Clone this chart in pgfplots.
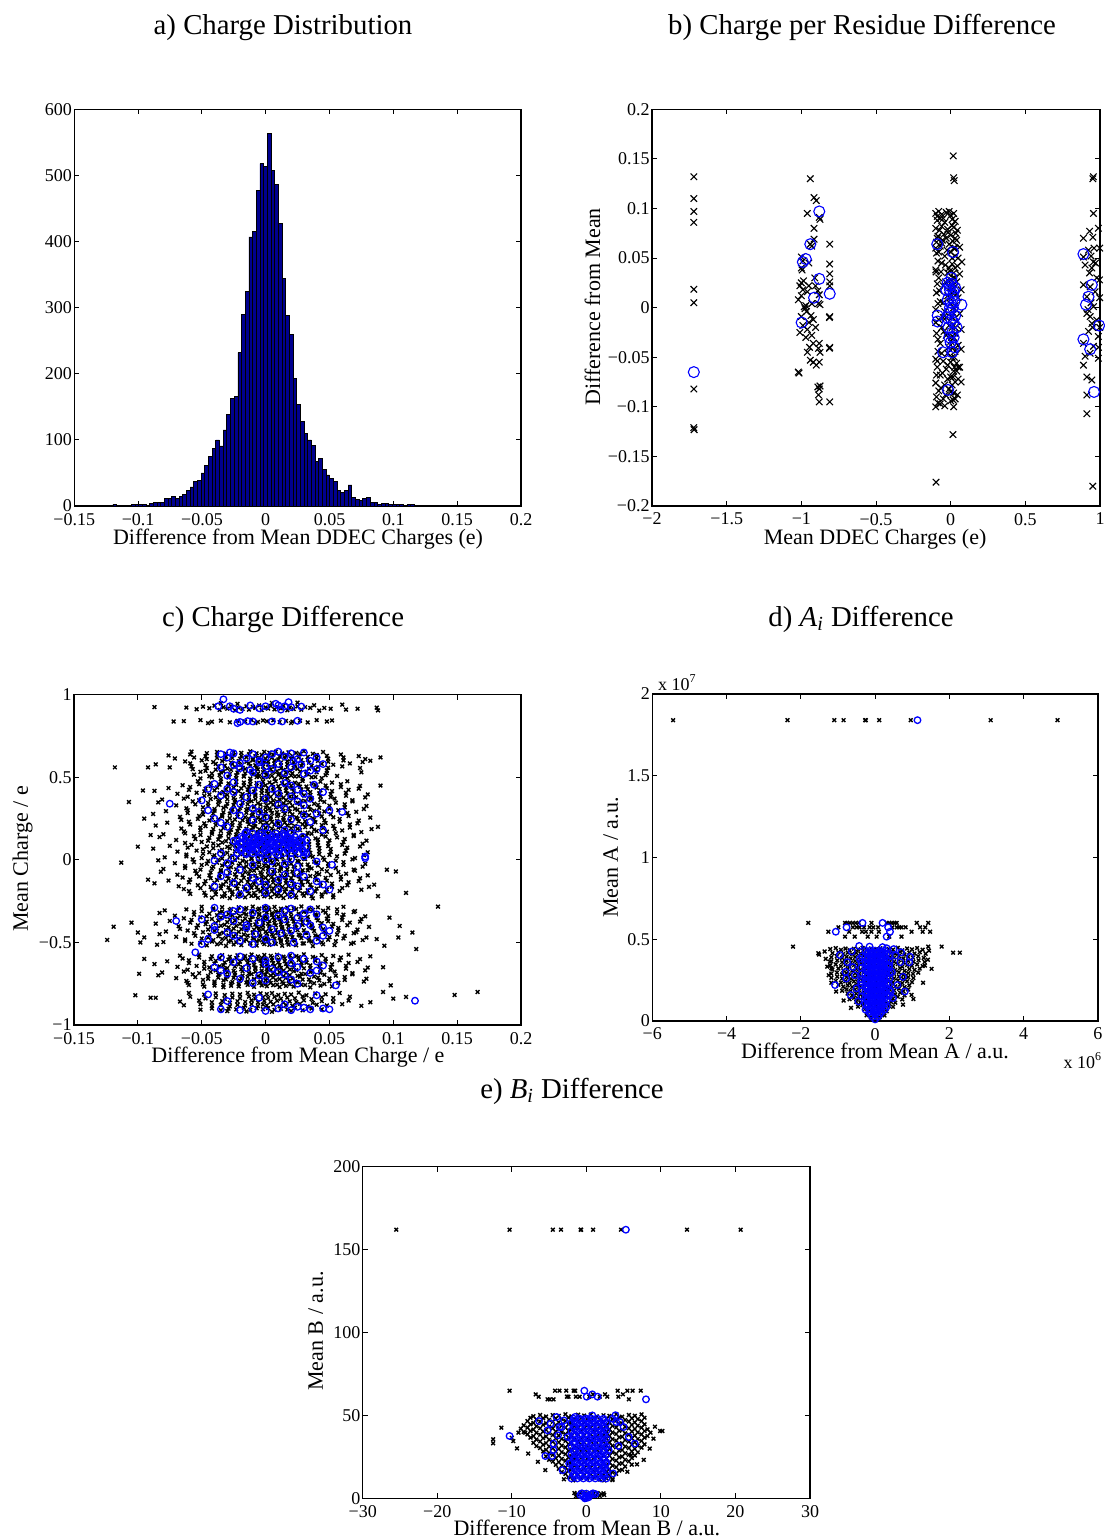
\documentclass[border=0pt]{standalone}
\usepackage{fontspec}
\setmainfont{Liberation Serif}
\usepackage{pgfplots}
\pgfplotsset{compat=1.18}
\definecolor{histblue}{rgb}{0,0,0.5625}
\pgfplotsset{
  mstyle/.style={
    scale only axis, tick align=inside, major tick length=2.5pt,
    axis line style={line width=0.6pt}, tick style={line width=0.5pt,black},
    tick label style={font=\fontsize{9}{10}\selectfont},
    yticklabel style={inner xsep=1pt},
    label style={font=\fontsize{11}{13}\selectfont},
    xlabel style={anchor=base}, ylabel style={anchor=base},
    scaled ticks=false,
  },
  bx/.style={only marks, mark=x, mark size=2.3pt, mark options={line width=0.55pt, black}},
  bo/.style={only marks, mark=o, mark size=2.75pt, mark options={line width=0.55pt, blue}},
  sx/.style={only marks, mark=x, mark size=1.3pt, mark options={line width=0.7pt, black}},
  so/.style={only marks, mark=o, mark size=1.65pt, mark options={line width=0.65pt, blue}},
}
\newcommand\titlefont{\fontsize{14.4}{17}\selectfont}
\begin{document}
\begin{tikzpicture}
\useasboundingbox (0,0) rectangle (552pt,-770pt);
% titles
\node[anchor=base,font=\titlefont] at (141.5pt,-17.5pt) {a) Charge Distribution};
\node[anchor=base,font=\titlefont] at (431pt,-17.5pt) {b) Charge per Residue Difference};
\node[anchor=base,font=\titlefont] at (141.5pt,-313pt) {c) Charge Difference};
\node[anchor=base,font=\titlefont] at (430.5pt,-313pt) {d) \textit{A}\textsubscript{\textit{i}} Difference};
\node[anchor=base,font=\titlefont] at (286pt,-549pt) {e) \textit{B}\textsubscript{\textit{i}} Difference};

% ---------------- a) histogram
\begin{axis}[mstyle, at={(37.15pt,-54.65pt)}, anchor=north west, width=223.35pt, height=198.35pt,
  xmin=-0.15, xmax=0.2, ymin=0, ymax=600,
  xtick={-0.15,-0.1,-0.05,0,0.05,0.1,0.15,0.2}, xticklabels={−0.15,−0.1,−0.05,0,0.05,0.1,0.15,0.2},
  ytick={0,100,200,300,400,500,600}, yticklabels={0,100,200,300,400,500,600},
  xlabel={Difference from Mean DDEC Charges (e)}, xlabel style={at={(axis description cs:0.5008,-0.0983)}}]
\addplot[ybar, bar width=0.00288, bar shift=0pt, fill=histblue, draw=black, line width=0.3pt] table[row sep=\\] {
-0.12124 1\\ -0.11836 3\\ -0.11548 1\\ -0.11260 1\\ -0.10972 0\\ -0.10684 1\\ -0.10396 2\\ -0.10108 2\\ -0.09820 2\\ -0.09532 2\\ -0.09244 1\\ -0.08956 4\\ -0.08668 6\\ -0.08380 5\\ -0.08092 6\\ -0.07804 11\\ -0.07516 11\\ -0.07228 14\\ -0.06940 12\\ -0.06652 15\\ -0.06364 18\\ -0.06076 24\\ -0.05788 29\\ -0.05500 37\\ -0.05212 39\\ -0.04924 50\\ -0.04636 61\\ -0.04348 75\\ -0.04060 87\\ -0.03772 100\\ -0.03484 91\\ -0.03196 115\\ -0.02908 138\\ -0.02620 163\\ -0.02332 166\\ -0.02044 232\\ -0.01756 290\\ -0.01468 325\\ -0.01180 407\\ -0.00892 415\\ -0.00604 477\\ -0.00316 518\\ -0.00028 514\\ 0.00260 563\\ 0.00548 508\\ 0.00836 486\\ 0.01124 427\\ 0.01412 344\\ 0.01700 288\\ 0.01988 260\\ 0.02276 193\\ 0.02564 154\\ 0.02852 128\\ 0.03140 110\\ 0.03428 100\\ 0.03716 92\\ 0.04004 67\\ 0.04292 72\\ 0.04580 55\\ 0.04868 47\\ 0.05156 42\\ 0.05444 37\\ 0.05732 23\\ 0.06020 20\\ 0.06308 24\\ 0.06596 32\\ 0.06884 13\\ 0.07172 10\\ 0.07460 9\\ 0.07748 11\\ 0.08036 13\\ 0.08324 6\\ 0.08612 5\\ 0.08900 3\\ 0.09188 4\\ 0.09476 4\\ 0.09764 3\\ 0.10052 3\\ 0.10340 3\\ 0.10628 2\\ 0.10916 1\\ 0.11204 2\\ 0.11492 2\\ 0.11780 1\\ 0.12068 1\\ 0.12644 1\\ 0.13220 1\\ 0.13796 1\\ 0.14372 1\\ 0.15236 1\\ 0.16100 1\\
};
\end{axis}

% ---------------- b) per residue
\begin{axis}[mstyle, at={(326pt,-54.65pt)}, anchor=north west, width=224pt, height=198.35pt,
  xmin=-2, xmax=1, ymin=-0.2, ymax=0.2,
  xtick={-2,-1.5,-1,-0.5,0,0.5,1}, xticklabels={−2,−1.5,−1,−0.5,0,0.5,1},
  ytick={-0.2,-0.15,-0.1,-0.05,0,0.05,0.1,0.15,0.2}, yticklabels={−0.2,−0.15,−0.1,−0.05,0,0.05,0.1,0.15,0.2},
  xlabel={Mean DDEC Charges (e)}, xlabel style={at={(axis description cs:0.498,-0.0983)}},
  ylabel={Difference from Mean}, ylabel style={at={(axis description cs:-0.116,0.502)}}]
\addplot[bx] table[row sep=\\] {
-1.72 0.132\\ -1.72 0.110\\ -1.72 0.097\\ -1.72 0.086\\ -1.72 0.0185\\ -1.72 0.005\\ -1.72 -0.082\\ -1.72 -0.121\\ -1.718 -0.123\\
-0.94 0.130\\ -0.915 0.111\\ -0.90 0.108\\ -0.96 0.095\\ -0.88 0.091\\ -0.875 0.089\\ -0.915 0.080\\ -0.915 0.069\\ -0.94 0.064\\ -0.93 0.062\\ -1.0 0.051\\ -0.99 0.047\\ -1.0 0.040\\ -0.995 0.038\\ -1.0 0.025\\ -1.01 0.022\\ -0.99 0.018\\ -1.0 0.012\\ -1.02 0.008\\ -0.96 0.016\\ -0.95 0.022\\ -0.97 0.002\\ -0.975 -0.001\\ -0.98 0.001\\ -0.965 -0.004\\ -1.0 -0.009\\ -0.99 -0.018\\ -1.01 -0.025\\ -0.96 -0.022\\ -0.97 -0.030\\ -0.93 -0.028\\ -0.92 -0.036\\ -0.945 -0.040\\ -0.96 -0.045\\ -0.88 -0.036\\ -0.885 -0.041\\ -0.875 -0.045\\ -0.94 -0.053\\ -0.92 -0.055\\ -0.90 -0.058\\ -0.88 -0.055\\ -1.02 -0.065\\ -1.015 -0.066\\ -0.89 -0.080\\ -0.88 -0.082\\ -0.875 -0.079\\ -0.885 -0.088\\ -0.88 -0.095\\ -0.92 -0.012\\ -0.935 -0.008\\ -0.91 0.030\\ -0.905 0.022\\ -0.89 0.017\\ -0.88 0.013\\ -0.885 0.004\\ -0.875 0.003\\ -0.95 0.045\\ -0.985 0.027\\ -0.93 0.004\\ -0.905 -0.020\\ -0.95 -0.015\\
-0.81 0.064\\ -0.81 0.044\\ -0.81 0.034\\ -0.81 0.026\\ -0.81 0.022\\ -0.81 -0.009\\ -0.812 -0.010\\ -0.81 -0.040\\ -0.812 -0.041\\ -0.81 -0.095\\
-0.10 0.095\\ -0.08 0.097\\ -0.06 0.094\\ -0.03 0.096\\ 0.0 0.093\\ 0.02 0.095\\ -0.09 0.088\\ -0.07 0.090\\ -0.04 0.086\\ 0.01 0.089\\ 0.03 0.087\\ -0.10 0.080\\ -0.06 0.082\\ -0.02 0.079\\ 0.02 0.081\\ 0.045 0.078\\ -0.085 0.072\\ -0.03 0.070\\ 0.0 0.073\\ 0.04 0.068\\ -0.07 0.062\\ -0.01 0.064\\ 0.03 0.060\\ 0.06 0.061\\ -0.095 0.055\\ -0.04 0.052\\ 0.0 0.056\\ 0.05 0.050\\ 0.075 0.046\\ -0.06 0.045\\ 0.01 0.044\\ 0.03 0.040\\ -0.10 0.038\\ -0.098 0.036\\ -0.02 0.035\\ 0.06 0.034\\ -0.08 0.030\\ 0.0 0.028\\ 0.04 0.026\\ -0.05 0.022\\ 0.02 0.020\\ 0.07 0.018\\ -0.095 0.015\\ -0.02 0.012\\ 0.05 0.010\\ -0.07 0.006\\ 0.0 0.004\\ 0.03 0.002\\ -0.10 -0.002\\ -0.04 -0.004\\ 0.06 -0.006\\ -0.08 -0.012\\ 0.01 -0.010\\ 0.04 -0.014\\ -0.06 -0.020\\ -0.01 -0.018\\ 0.07 -0.022\\ -0.095 -0.026\\ -0.03 -0.028\\ 0.02 -0.030\\ -0.07 -0.036\\ 0.0 -0.034\\ 0.05 -0.038\\ -0.085 -0.044\\ -0.02 -0.046\\ 0.03 -0.044\\ 0.07 -0.042\\ -0.10 -0.052\\ -0.05 -0.054\\ 0.01 -0.050\\ 0.04 -0.056\\ -0.09 -0.060\\ -0.03 -0.062\\ 0.02 -0.064\\ 0.06 -0.060\\ -0.07 -0.068\\ 0.0 -0.070\\ 0.05 -0.072\\ -0.10 -0.076\\ -0.04 -0.078\\ 0.03 -0.075\\ 0.07 -0.075\\ -0.08 -0.084\\ -0.01 -0.082\\ 0.02 -0.086\\ -0.095 -0.090\\ -0.05 -0.092\\ 0.0 -0.094\\ 0.03 -0.092\\ -0.10 -0.100\\ -0.07 -0.097\\ 0.02 -0.100\\
0.01 0.05\\ 0.015 0.03\\ 0.02 0.0\\ 0.01 -0.02\\ 0.015 -0.04\\ 0.025 -0.06\\ 0.0 -0.085\\ -0.005 0.02\\ 0.03 0.07\\ 0.02 0.06\\ 0.0 -0.055\\ 0.015 -0.07\\ -0.01 0.04\\ 0.02 0.035\\ 0.005 -0.03\\ 0.03 -0.02\\ 0.01 0.015\\ -0.03 -0.01\\ -0.05 0.005\\ -0.06 0.065\\ -0.09 0.07\\ -0.1 0.06\\
-0.09 0.092\\ -0.05 0.090\\ -0.01 0.097\\ 0.01 0.083\\ -0.075 0.078\\ -0.045 0.074\\ -0.015 0.076\\ 0.035 0.075\\ -0.095 0.066\\ -0.055 0.068\\ 0.015 0.067\\ -0.08 0.056\\ -0.025 0.058\\ 0.03 0.052\\ -0.085 0.047\\ -0.035 0.043\\ 0.045 0.042\\ -0.065 0.036\\ -0.005 0.037\\ 0.025 0.030\\ -0.09 0.024\\ -0.035 0.026\\ 0.01 0.027\\ -0.075 0.017\\ -0.005 0.010\\ 0.04 0.014\\ -0.085 0.004\\ -0.05 -0.010\\ 0.02 -0.006\\ -0.1 -0.015\\ -0.045 -0.024\\ 0.03 -0.026\\ -0.085 -0.032\\ -0.015 -0.040\\ 0.025 -0.050\\ -0.06 -0.046\\ -0.09 -0.054\\ -0.02 -0.058\\ 0.04 -0.064\\ -0.055 -0.066\\ -0.095 -0.068\\ -0.02 -0.072\\ 0.01 -0.078\\ -0.065 -0.081\\ -0.035 -0.088\\ 0.015 -0.093\\ -0.085 -0.096\\ -0.04 -0.099\\ 0.045 -0.088\\ 0.05 -0.06\\
0.017 0.153\\ 0.02 0.131\\ 0.024 0.128\\ 0.015 -0.128\\ -0.098 -0.176\\
0.952 0.130\\ 0.956 0.132\\ 0.956 0.095\\ 0.989 0.080\\ 0.930 0.077\\ 0.889 0.070\\ 0.952 0.071\\ 0.923 0.058\\ 0.889 0.051\\ 0.956 0.046\\ 0.900 0.043\\ 0.945 0.040\\ 0.978 0.030\\ 0.996 0.028\\ 0.889 0.023\\ 0.934 0.021\\ 0.967 0.016\\ 0.912 0.011\\ 0.956 0.001\\ 0.912 -0.006\\ 0.934 -0.009\\ 0.978 -0.0125\\ 0.945 -0.016\\ 0.923 -0.024\\ 0.989 -0.029\\ 0.889 -0.036\\ 0.956 -0.039\\ 0.934 -0.046\\ 0.989 -0.051\\ 0.900 -0.049\\ 0.889 -0.058\\ 0.912 -0.070\\ 0.945 -0.073\\ 0.912 -0.088\\ 0.912 -0.107\\ 0.952 -0.180\\ 0.93 0.035\\ 0.94 0.005\\ 0.92 -0.002\\ 0.95 -0.02\\ 0.94 0.052\\ 0.96 0.06\\ 0.99 -0.04\\ 0.97 0.045\\ 0.998 0.060\\ 0.998 0.010\\ 0.998 -0.020\\
};
\addplot[bo] table[row sep=\\] {
-1.72 -0.065\\ -0.88 0.097\\ -0.94 0.064\\ -0.99 0.046\\ -0.97 0.049\\ -0.88 0.029\\ -0.915 0.010\\ -0.998 -0.015\\ -0.81 0.014\\
-0.09 0.064\\ 0.016 0.056\\ 0.072 0.003\\ -0.051 -0.045\\ -0.018 -0.083\\ -0.087 -0.008\\ -0.088 -0.014\\ -0.03 0.018\\ -0.01 0.022\\ 0.01 0.024\\ 0.02 0.016\\ -0.02 0.008\\ 0.0 0.005\\ 0.015 0.0\\ -0.01 -0.005\\ 0.005 -0.012\\ 0.02 -0.015\\ -0.015 -0.02\\ 0.01 -0.025\\ 0.02 -0.03\\ 0.0 -0.035\\ 0.015 0.012\\ -0.02 0.025\\ 0.03 -0.008\\ 0.005 0.03\\ 0.04 -0.02\\ -0.005 0.018\\ 0.025 0.006\\ -0.025 -0.01\\ 0.01 -0.045\\ 0.025 -0.04\\ -0.005 0.0\\ 0.03 0.02\\ -0.01 -0.03\\
0.889 0.054\\ 0.945 0.023\\ 0.923 0.011\\ 0.906 0.003\\ 0.994 -0.018\\ 0.889 -0.032\\ 0.934 -0.042\\ 0.96 -0.085\\
};
\end{axis}

% ---------------- c) charge difference (x, y in thousandths)
\begin{axis}[mstyle, at={(37pt,-347.35pt)}, anchor=north west, width=223.5pt, height=165.15pt,
  xmin=-150, xmax=200, ymin=-1000, ymax=1000,
  xtick={-150,-100,-50,0,50,100,150,200}, xticklabels={−0.15,−0.1,−0.05,0,0.05,0.1,0.15,0.2},
  ytick={-1000,-500,0,500,1000}, yticklabels={−1,−0.5,0,0.5,1},
  xlabel={Difference from Mean Charge / e}, xlabel style={at={(axis description cs:0.501,-0.112)}},
  ylabel={Mean Charge / e}, ylabel style={at={(axis description cs:-0.103,0.503)}}]
\addplot[sx] table[row sep=\\] {
-49 928\\ -40 934\\ -33 924\\ -27 931\\ -21 921\\ -15 930\\ -10 926\\ -5 935\\ 0 923\\ 4 932\\ 9 927\\ 14 933\\ 19 922\\ 25 929\\ 31 925\\ 38 936\\ 46 920\\
-54 912\\ -44 918\\ -36 908\\ -30 915\\ -24 905\\ -18 914\\ -13 910\\ -8 919\\ -3 907\\ 2 916\\ 7 911\\ 12 917\\ 17 906\\ 22 913\\ 28 909\\ 35 920\\ 42 904\\ 51 915\\ 63 910\\
-87 925\\ -62 922\\ 72 915\\ 87 922\\ 88 905\\ -35 948\\ 5 950\\ -22 945\\ 25 952\\ 60 940\\
-64 840\\ -51 846\\ -42 836\\ -35 843\\ -28 833\\ -22 842\\ -16 838\\ -11 847\\ -6 835\\ -2 844\\ 1 839\\ 6 845\\ 11 834\\ 16 841\\ 21 837\\ 27 843\\ 33 832\\ 40 846\\ 48 838\\ -45 828\\ -8 828\\ 20 828\\ 52 844\\ -72 838\\
-58 656\\ -46 646\\ -38 653\\ -31 643\\ -25 652\\ -19 648\\ -12 657\\ -7 645\\ -1 654\\ 3 649\\ 8 655\\ 13 644\\ 18 651\\ 24 647\\ 30 658\\ 37 642\\ 45 653\\
-76 632\\ -59 638\\ -47 628\\ -38 635\\ -31 625\\ -25 634\\ -19 630\\ -13 639\\ -8 627\\ -3 636\\ 2 631\\ 6 637\\ 11 626\\ 16 633\\ 21 629\\ 27 640\\ 33 624\\ 40 635\\ 48 630\\ 59 638\\ 73 628\\
-71 614\\ -56 620\\ -46 610\\ -38 617\\ -32 607\\ -26 616\\ -20 612\\ -15 621\\ -10 609\\ -5 618\\ 0 613\\ 5 619\\ 10 608\\ 15 615\\ 20 611\\ 26 622\\ 33 606\\ 40 617\\ 49 612\\ 61 620\\ 78 610\\
-63 596\\ -50 602\\ -41 592\\ -34 599\\ -27 589\\ -21 598\\ -15 594\\ -10 603\\ -5 591\\ -1 600\\ 2 595\\ 7 601\\ 12 590\\ 17 597\\ 22 593\\ 28 604\\ 34 588\\ 41 599\\ 49 594\\ 61 602\\ 76 592\\
-86 578\\ -59 584\\ -47 574\\ -39 581\\ -32 571\\ -26 580\\ -20 576\\ -13 585\\ -8 573\\ -2 582\\ 2 577\\ 7 583\\ 12 572\\ 17 579\\ 23 575\\ 29 586\\ 36 570\\ 44 581\\ 53 576\\ 66 584\\
-75 560\\ -58 566\\ -46 556\\ -37 563\\ -30 553\\ -24 562\\ -18 558\\ -12 567\\ -7 555\\ -2 564\\ 3 559\\ 7 565\\ 12 554\\ 17 561\\ 22 557\\ 28 568\\ 34 552\\ 41 563\\ 49 558\\ 60 566\\ 74 556\\
-57 549\\ -47 539\\ -39 546\\ -33 536\\ -27 545\\ -21 541\\ -16 550\\ -11 538\\ -6 547\\ -1 542\\ 4 548\\ 9 537\\ 14 544\\ 19 540\\ 25 551\\ 32 535\\ 39 546\\ 48 541\\
-51 533\\ -42 523\\ -35 530\\ -28 520\\ -22 529\\ -16 525\\ -11 534\\ -6 522\\ -2 531\\ 1 526\\ 6 532\\ 11 521\\ 16 528\\ 21 524\\ 27 535\\ 33 519\\ 40 530\\ 48 525\\
-56 516\\ -44 506\\ -36 513\\ -29 503\\ -23 512\\ -17 508\\ -10 517\\ -5 505\\ 1 514\\ 5 509\\ 10 515\\ 15 504\\ 20 511\\ 26 507\\ 32 518\\ 39 502\\ 47 513\\ 56 508\\
-51 493\\ -42 500\\ -35 490\\ -29 499\\ -23 495\\ -17 504\\ -12 492\\ -7 501\\ -2 496\\ 2 502\\ 7 491\\ 12 498\\ 17 494\\ 23 505\\ 29 489\\ 36 500\\ 44 495\\
-53 476\\ -43 466\\ -35 473\\ -29 463\\ -23 472\\ -17 468\\ -12 477\\ -7 465\\ -2 474\\ 3 469\\ 8 475\\ 13 464\\ 18 471\\ 23 467\\ 29 478\\ 36 462\\ 43 473\\ 52 468\\ 64 476\\
-65 452\\ -52 458\\ -43 448\\ -36 455\\ -29 445\\ -23 454\\ -17 450\\ -12 459\\ -7 447\\ -3 456\\ 0 451\\ 5 457\\ 10 446\\ 15 453\\ 20 449\\ 26 460\\ 32 444\\ 39 455\\ 47 450\\ 59 458\\ 74 448\\
-76 435\\ -59 441\\ -47 431\\ -38 438\\ -31 428\\ -25 437\\ -19 433\\ -13 442\\ -8 430\\ -3 439\\ 2 434\\ 6 440\\ 11 429\\ 16 436\\ 21 432\\ 27 443\\ 33 427\\ 40 438\\ 48 433\\ 59 441\\ 73 431\\
-87 418\\ -60 424\\ -48 414\\ -40 421\\ -33 411\\ -27 420\\ -21 416\\ -14 425\\ -9 413\\ -3 422\\ 1 417\\ 6 423\\ 11 412\\ 16 419\\ 22 415\\ 28 426\\ 35 410\\ 43 421\\ 52 416\\ 65 424\\
-69 400\\ -54 406\\ -44 396\\ -36 403\\ -30 393\\ -24 402\\ -18 398\\ -13 407\\ -8 395\\ -3 404\\ 2 399\\ 7 405\\ 12 394\\ 17 401\\ 22 397\\ 28 408\\ 35 392\\ 42 403\\ 51 398\\ 63 406\\ 80 396\\
-61 382\\ -48 388\\ -39 378\\ -32 385\\ -25 375\\ -19 384\\ -13 380\\ -8 389\\ -3 377\\ 1 386\\ 4 381\\ 9 387\\ 14 376\\ 19 383\\ 24 379\\ 30 390\\ 36 374\\ 43 385\\ 51 380\\ 63 388\\ 78 378\\
-81 365\\ -64 371\\ -52 361\\ -43 368\\ -36 358\\ -30 367\\ -24 363\\ -18 372\\ -13 360\\ -8 369\\ -3 364\\ 1 370\\ 6 359\\ 11 366\\ 16 362\\ 22 373\\ 28 357\\ 35 368\\ 43 363\\ 54 371\\ 68 361\\
-84 348\\ -57 354\\ -45 344\\ -37 351\\ -30 341\\ -24 350\\ -18 346\\ -11 355\\ -6 343\\ 0 352\\ 4 347\\ 9 353\\ 14 342\\ 19 349\\ 25 345\\ 31 356\\ 38 340\\ 46 351\\ 55 346\\ 68 354\\
-70 330\\ -55 336\\ -45 326\\ -37 333\\ -31 323\\ -25 332\\ -19 328\\ -14 337\\ -9 325\\ -4 334\\ 1 329\\ 6 335\\ 11 324\\ 16 331\\ 21 327\\ 27 338\\ 34 322\\ 41 333\\ 50 328\\ 62 336\\ 79 326\\
-62 312\\ -49 318\\ -40 308\\ -33 315\\ -26 305\\ -20 314\\ -14 310\\ -9 319\\ -4 307\\ 0 316\\ 3 311\\ 8 317\\ 13 306\\ 18 313\\ 23 309\\ 29 320\\ 35 304\\ 42 315\\ 50 310\\ 62 318\\ 77 308\\
-78 295\\ -61 301\\ -49 291\\ -40 298\\ -33 288\\ -27 297\\ -21 293\\ -15 302\\ -10 290\\ -5 299\\ 0 294\\ 4 300\\ 9 289\\ 14 296\\ 19 292\\ 25 303\\ 31 287\\ 38 298\\ 46 293\\ 57 301\\ 71 291\\
-88 278\\ -61 284\\ -49 274\\ -41 281\\ -34 271\\ -28 280\\ -22 276\\ -15 285\\ -10 273\\ -4 282\\ 0 277\\ 5 283\\ 10 272\\ 15 279\\ 21 275\\ 27 286\\ 34 270\\ 42 281\\ 51 276\\ 64 284\\
-67 260\\ -52 266\\ -42 256\\ -34 263\\ -28 253\\ -22 262\\ -16 258\\ -11 267\\ -6 255\\ -1 264\\ 4 259\\ 9 265\\ 14 254\\ 19 261\\ 24 257\\ 30 268\\ 37 252\\ 44 263\\ 53 258\\ 65 266\\ 82 256\\
-66 242\\ -53 248\\ -44 238\\ -37 245\\ -30 235\\ -24 244\\ -18 240\\ -13 249\\ -8 237\\ -4 246\\ -1 241\\ 4 247\\ 9 236\\ 14 243\\ 19 239\\ 25 250\\ 31 234\\ 38 245\\ 46 240\\ 58 248\\ 73 238\\
-77 225\\ -60 231\\ -48 221\\ -39 228\\ -32 218\\ -26 227\\ -20 223\\ -14 232\\ -9 220\\ -4 229\\ 1 224\\ 5 230\\ 10 219\\ 15 226\\ 20 222\\ 26 233\\ 32 217\\ 39 228\\ 47 223\\ 58 231\\ 72 221\\
-86 208\\ -59 214\\ -47 204\\ -39 211\\ -32 201\\ -26 210\\ -20 206\\ -13 215\\ -8 203\\ -2 212\\ 2 207\\ 7 213\\ 12 202\\ 17 209\\ 23 205\\ 29 216\\ 36 200\\ 44 211\\ 53 206\\ 66 214\\
-66 190\\ -51 196\\ -41 186\\ -33 193\\ -27 183\\ -21 192\\ -15 188\\ -10 197\\ -5 185\\ 0 194\\ 5 189\\ 10 195\\ 15 184\\ 20 191\\ 25 187\\ 31 198\\ 38 182\\ 45 193\\ 54 188\\ 66 196\\ 83 186\\
-64 172\\ -51 178\\ -42 168\\ -35 175\\ -28 165\\ -22 174\\ -16 170\\ -11 179\\ -6 167\\ -2 176\\ 1 171\\ 6 177\\ 11 166\\ 16 173\\ 21 169\\ 27 180\\ 33 164\\ 40 175\\ 48 170\\ 60 178\\ 75 168\\
-80 155\\ -63 161\\ -51 151\\ -42 158\\ -35 148\\ -29 157\\ -23 153\\ -17 162\\ -12 150\\ -7 159\\ -2 154\\ 2 160\\ 7 149\\ 12 156\\ 17 152\\ 23 163\\ 29 147\\ 36 158\\ 44 153\\ 55 161\\ 69 151\\
-83 138\\ -56 144\\ -44 134\\ -36 141\\ -29 131\\ -23 140\\ -17 136\\ -10 145\\ -5 133\\ 1 142\\ 5 137\\ 10 143\\ 15 132\\ 20 139\\ 26 135\\ 32 146\\ 39 130\\ 47 141\\ 56 136\\ 69 144\\
-70 120\\ -55 126\\ -45 116\\ -37 123\\ -31 113\\ -25 122\\ -19 118\\ -14 127\\ -9 115\\ -4 124\\ 1 119\\ 6 125\\ 11 114\\ 16 121\\ 21 117\\ 27 128\\ 34 112\\ 41 123\\ 50 118\\ 62 126\\ 79 116\\
-63 102\\ -50 108\\ -41 98\\ -34 105\\ -27 95\\ -21 104\\ -15 100\\ -10 109\\ -5 97\\ -1 106\\ 2 101\\ 7 107\\ 12 96\\ 17 103\\ 22 99\\ 28 110\\ 34 94\\ 41 105\\ 49 100\\ 61 108\\ 76 98\\
-75 85\\ -58 91\\ -46 81\\ -37 88\\ -30 78\\ -24 87\\ -18 83\\ -12 92\\ -7 80\\ -2 89\\ 3 84\\ 7 90\\ 12 79\\ 17 86\\ 22 82\\ 28 93\\ 34 77\\ 41 88\\ 49 83\\ 60 91\\ 74 81\\
-88 68\\ -61 74\\ -49 64\\ -41 71\\ -34 61\\ -28 70\\ -22 66\\ -15 75\\ -10 63\\ -4 72\\ 0 67\\ 5 73\\ 10 62\\ 15 69\\ 21 65\\ 27 76\\ 34 60\\ 42 71\\ 51 66\\ 64 74\\
-69 50\\ -54 56\\ -44 46\\ -36 53\\ -30 43\\ -24 52\\ -18 48\\ -13 57\\ -8 45\\ -3 54\\ 2 49\\ 7 55\\ 12 44\\ 17 51\\ 22 47\\ 28 58\\ 35 42\\ 42 53\\ 51 48\\ 63 56\\ 80 46\\
-62 32\\ -49 38\\ -40 28\\ -33 35\\ -26 25\\ -20 34\\ -14 30\\ -9 39\\ -4 27\\ 0 36\\ 3 31\\ 8 37\\ 13 26\\ 18 33\\ 23 29\\ 29 40\\ 35 24\\ 42 35\\ 50 30\\ 62 38\\ 77 28\\
-79 15\\ -62 21\\ -50 11\\ -41 18\\ -34 8\\ -28 17\\ -22 13\\ -16 22\\ -11 10\\ -6 19\\ -1 14\\ 3 20\\ 8 9\\ 13 16\\ 18 12\\ 24 23\\ 30 7\\ 37 18\\ 45 13\\ 56 21\\ 70 11\\
-84 -3\\ -57 3\\ -45 -7\\ -37 0\\ -30 -10\\ -24 -1\\ -18 -5\\ -11 4\\ -6 -8\\ 0 1\\ 4 -4\\ 9 2\\ 14 -9\\ 19 -2\\ 25 -6\\ 31 5\\ 38 -11\\ 46 0\\ 55 -5\\ 68 3\\
-71 -20\\ -56 -14\\ -46 -24\\ -38 -17\\ -32 -27\\ -26 -18\\ -20 -22\\ -15 -13\\ -10 -25\\ -5 -16\\ 0 -21\\ 5 -15\\ 10 -26\\ 15 -19\\ 20 -23\\ 26 -12\\ 33 -28\\ 40 -17\\ 49 -22\\ 61 -14\\ 78 -24\\
-63 -37\\ -50 -31\\ -41 -41\\ -34 -34\\ -27 -44\\ -21 -35\\ -15 -39\\ -10 -30\\ -5 -42\\ -1 -33\\ 2 -38\\ 7 -32\\ 12 -43\\ 17 -36\\ 22 -40\\ 28 -29\\ 34 -45\\ 41 -34\\ 49 -39\\ 61 -31\\ 76 -41\\
-80 -55\\ -63 -49\\ -51 -59\\ -42 -52\\ -35 -62\\ -29 -53\\ -23 -57\\ -17 -48\\ -12 -60\\ -7 -51\\ -2 -56\\ 2 -50\\ 7 -61\\ 12 -54\\ 17 -58\\ 23 -47\\ 29 -63\\ 36 -52\\ 44 -57\\ 55 -49\\ 69 -59\\
-82 -72\\ -55 -66\\ -43 -76\\ -35 -69\\ -28 -79\\ -22 -70\\ -16 -74\\ -9 -65\\ -4 -77\\ 2 -68\\ 6 -73\\ 11 -67\\ 16 -78\\ 21 -71\\ 27 -75\\ 33 -64\\ 40 -80\\ 48 -69\\ 57 -74\\ 70 -66\\
-69 -90\\ -54 -84\\ -44 -94\\ -36 -87\\ -30 -97\\ -24 -88\\ -18 -92\\ -13 -83\\ -8 -95\\ -3 -86\\ 2 -91\\ 7 -85\\ 12 -96\\ 17 -89\\ 22 -93\\ 28 -82\\ 35 -98\\ 42 -87\\ 51 -92\\ 63 -84\\ 80 -94\\
-65 -107\\ -52 -101\\ -43 -111\\ -36 -104\\ -29 -114\\ -23 -105\\ -17 -109\\ -12 -100\\ -7 -112\\ -3 -103\\ 0 -108\\ 5 -102\\ 10 -113\\ 15 -106\\ 20 -110\\ 26 -99\\ 32 -115\\ 39 -104\\ 47 -109\\ 59 -101\\ 74 -111\\
-76 -125\\ -59 -119\\ -47 -129\\ -38 -122\\ -31 -132\\ -25 -123\\ -19 -127\\ -13 -118\\ -8 -130\\ -3 -121\\ 2 -126\\ 6 -120\\ 11 -131\\ 16 -124\\ 21 -128\\ 27 -117\\ 33 -133\\ 40 -122\\ 48 -127\\ 59 -119\\ 73 -129\\
-87 -142\\ -60 -136\\ -48 -146\\ -40 -139\\ -33 -149\\ -27 -140\\ -21 -144\\ -14 -135\\ -9 -147\\ -3 -138\\ 1 -143\\ 6 -137\\ 11 -148\\ 16 -141\\ 22 -145\\ 28 -134\\ 35 -150\\ 43 -139\\ 52 -144\\ 65 -136\\
-68 -160\\ -53 -154\\ -43 -164\\ -35 -157\\ -29 -167\\ -23 -158\\ -17 -162\\ -12 -153\\ -7 -165\\ -2 -156\\ 3 -161\\ 8 -155\\ 13 -166\\ 18 -159\\ 23 -163\\ 29 -152\\ 36 -168\\ 43 -157\\ 52 -162\\ 64 -154\\ 81 -164\\
-64 -177\\ -51 -171\\ -42 -181\\ -35 -174\\ -28 -184\\ -22 -175\\ -16 -179\\ -11 -170\\ -6 -182\\ -2 -173\\ 1 -178\\ 6 -172\\ 11 -183\\ 16 -176\\ 21 -180\\ 27 -169\\ 33 -185\\ 40 -174\\ 48 -179\\ 60 -171\\ 75 -181\\
-60 -189\\ -48 -199\\ -39 -192\\ -32 -202\\ -26 -193\\ -20 -197\\ -14 -188\\ -9 -200\\ -4 -191\\ 1 -196\\ 5 -190\\ 10 -201\\ 15 -194\\ 20 -198\\ 26 -187\\ 32 -203\\ 39 -192\\ 47 -197\\ 58 -189\\
-59 -206\\ -47 -216\\ -39 -209\\ -32 -219\\ -26 -210\\ -20 -214\\ -13 -205\\ -8 -217\\ -2 -208\\ 2 -213\\ 7 -207\\ 12 -218\\ 17 -211\\ 23 -215\\ 29 -204\\ 36 -220\\ 44 -209\\ 53 -214\\
-42 -229\\ -34 -222\\ -28 -232\\ -22 -223\\ -16 -227\\ -11 -218\\ -6 -230\\ -1 -221\\ 4 -226\\ 9 -220\\ 14 -231\\ 19 -224\\ 24 -228\\ 30 -217\\ 37 -233\\ 44 -222\\ 53 -227\\
-50 -284\\ -41 -294\\ -34 -287\\ -27 -297\\ -21 -288\\ -15 -292\\ -10 -283\\ -5 -295\\ -1 -286\\ 2 -291\\ 7 -285\\ 12 -296\\ 17 -289\\ 22 -293\\ 28 -282\\ 34 -298\\ 41 -287\\ 49 -292\\ 61 -284\\
-79 -306\\ -62 -300\\ -50 -310\\ -41 -303\\ -34 -313\\ -28 -304\\ -22 -308\\ -16 -299\\ -11 -311\\ -6 -302\\ -1 -307\\ 3 -301\\ 8 -312\\ 13 -305\\ 18 -309\\ 24 -298\\ 30 -314\\ 37 -303\\ 45 -308\\ 56 -300\\ 70 -310\\
-83 -322\\ -56 -316\\ -44 -326\\ -36 -319\\ -29 -329\\ -23 -320\\ -17 -324\\ -10 -315\\ -5 -327\\ 1 -318\\ 5 -323\\ 10 -317\\ 15 -328\\ 20 -321\\ 26 -325\\ 32 -314\\ 39 -330\\ 47 -319\\ 56 -324\\ 69 -316\\
-71 -338\\ -56 -332\\ -46 -342\\ -38 -335\\ -32 -345\\ -26 -336\\ -20 -340\\ -15 -331\\ -10 -343\\ -5 -334\\ 0 -339\\ 5 -333\\ 10 -344\\ 15 -337\\ 20 -341\\ 26 -330\\ 33 -346\\ 40 -335\\ 49 -340\\ 61 -332\\ 78 -342\\
-64 -354\\ -51 -348\\ -42 -358\\ -35 -351\\ -28 -361\\ -22 -352\\ -16 -356\\ -11 -347\\ -6 -359\\ -2 -350\\ 1 -355\\ 6 -349\\ 11 -360\\ 16 -353\\ 21 -357\\ 27 -346\\ 33 -362\\ 40 -351\\ 48 -356\\ 60 -348\\ 75 -358\\
-75 -370\\ -58 -364\\ -46 -374\\ -37 -367\\ -30 -377\\ -24 -368\\ -18 -372\\ -12 -363\\ -7 -375\\ -2 -366\\ 3 -371\\ 7 -365\\ 12 -376\\ 17 -369\\ 22 -373\\ 28 -362\\ 34 -378\\ 41 -367\\ 49 -372\\ 60 -364\\ 74 -374\\
-86 -386\\ -59 -380\\ -47 -390\\ -39 -383\\ -32 -393\\ -26 -384\\ -20 -388\\ -13 -379\\ -8 -391\\ -2 -382\\ 2 -387\\ 7 -381\\ 12 -392\\ 17 -385\\ 23 -389\\ 29 -378\\ 36 -394\\ 44 -383\\ 53 -388\\ 66 -380\\
-68 -402\\ -53 -396\\ -43 -406\\ -35 -399\\ -29 -409\\ -23 -400\\ -17 -404\\ -12 -395\\ -7 -407\\ -2 -398\\ 3 -403\\ 8 -397\\ 13 -408\\ 18 -401\\ 23 -405\\ 29 -394\\ 36 -410\\ 43 -399\\ 52 -404\\ 64 -396\\ 81 -406\\
-67 -418\\ -54 -412\\ -45 -422\\ -38 -415\\ -31 -425\\ -25 -416\\ -19 -420\\ -14 -411\\ -9 -423\\ -5 -414\\ -2 -419\\ 3 -413\\ 8 -424\\ 13 -417\\ 18 -421\\ 24 -410\\ 30 -426\\ 37 -415\\ 45 -420\\ 57 -412\\ 72 -422\\
-78 -434\\ -61 -428\\ -49 -438\\ -40 -431\\ -33 -441\\ -27 -432\\ -21 -436\\ -15 -427\\ -10 -439\\ -5 -430\\ 0 -435\\ 4 -429\\ 9 -440\\ 14 -433\\ 19 -437\\ 25 -426\\ 31 -442\\ 38 -431\\ 46 -436\\ 57 -428\\ 71 -438\\
-83 -450\\ -56 -444\\ -44 -454\\ -36 -447\\ -29 -457\\ -23 -448\\ -17 -452\\ -10 -443\\ -5 -455\\ 1 -446\\ 5 -451\\ 10 -445\\ 15 -456\\ 20 -449\\ 26 -453\\ 32 -442\\ 39 -458\\ 47 -447\\ 56 -452\\ 69 -444\\
-70 -466\\ -55 -460\\ -45 -470\\ -37 -463\\ -31 -473\\ -25 -464\\ -19 -468\\ -14 -459\\ -9 -471\\ -4 -462\\ 1 -467\\ 6 -461\\ 11 -472\\ 16 -465\\ 21 -469\\ 27 -458\\ 34 -474\\ 41 -463\\ 50 -468\\ 62 -460\\ 79 -470\\
-63 -482\\ -50 -476\\ -41 -486\\ -34 -479\\ -27 -489\\ -21 -480\\ -15 -484\\ -10 -475\\ -5 -487\\ -1 -478\\ 2 -483\\ 7 -477\\ 12 -488\\ 17 -481\\ 22 -485\\ 28 -474\\ 34 -490\\ 41 -479\\ 49 -484\\ 61 -476\\ 76 -486\\
-80 -498\\ -63 -492\\ -51 -502\\ -42 -495\\ -35 -505\\ -29 -496\\ -23 -500\\ -17 -491\\ -12 -503\\ -7 -494\\ -2 -499\\ 2 -493\\ 7 -504\\ 12 -497\\ 17 -501\\ 23 -490\\ 29 -506\\ 36 -495\\ 44 -500\\ 55 -492\\ 69 -502\\
-85 -514\\ -58 -508\\ -46 -518\\ -38 -511\\ -31 -521\\ -25 -512\\ -19 -516\\ -12 -507\\ -7 -519\\ -1 -510\\ 3 -515\\ 8 -509\\ 13 -520\\ 18 -513\\ 24 -517\\ 30 -506\\ 37 -522\\ 45 -511\\ 54 -516\\ 67 -508\\
-67 -580\\ -52 -574\\ -42 -584\\ -34 -577\\ -28 -587\\ -22 -578\\ -16 -582\\ -11 -573\\ -6 -585\\ -1 -576\\ 4 -581\\ 9 -575\\ 14 -586\\ 19 -579\\ 24 -583\\ 30 -572\\ 37 -588\\ 44 -577\\ 53 -582\\ 65 -574\\ 82 -584\\
-65 -597\\ -52 -591\\ -43 -601\\ -36 -594\\ -29 -604\\ -23 -595\\ -17 -599\\ -12 -590\\ -7 -602\\ -3 -593\\ 0 -598\\ 5 -592\\ 10 -603\\ 15 -596\\ 20 -600\\ 26 -589\\ 32 -605\\ 39 -594\\ 47 -599\\ 59 -591\\ 74 -601\\
-77 -614\\ -60 -608\\ -48 -618\\ -39 -611\\ -32 -621\\ -26 -612\\ -20 -616\\ -14 -607\\ -9 -619\\ -4 -610\\ 1 -615\\ 5 -609\\ 10 -620\\ 15 -613\\ 20 -617\\ 26 -606\\ 32 -622\\ 39 -611\\ 47 -616\\ 58 -608\\ 72 -618\\
-87 -631\\ -60 -625\\ -48 -635\\ -40 -628\\ -33 -638\\ -27 -629\\ -21 -633\\ -14 -624\\ -9 -636\\ -3 -627\\ 1 -632\\ 6 -626\\ 11 -637\\ 16 -630\\ 22 -634\\ 28 -623\\ 35 -639\\ 43 -628\\ 52 -633\\ 65 -625\\
-69 -648\\ -54 -642\\ -44 -652\\ -36 -645\\ -30 -655\\ -24 -646\\ -18 -650\\ -13 -641\\ -8 -653\\ -3 -644\\ 2 -649\\ 7 -643\\ 12 -654\\ 17 -647\\ 22 -651\\ 28 -640\\ 35 -656\\ 42 -645\\ 51 -650\\ 63 -642\\ 80 -652\\
-61 -665\\ -48 -659\\ -39 -669\\ -32 -662\\ -25 -672\\ -19 -663\\ -13 -667\\ -8 -658\\ -3 -670\\ 1 -661\\ 4 -666\\ 9 -660\\ 14 -671\\ 19 -664\\ 24 -668\\ 30 -657\\ 36 -673\\ 43 -662\\ 51 -667\\ 63 -659\\ 78 -669\\
-81 -682\\ -64 -676\\ -52 -686\\ -43 -679\\ -36 -689\\ -30 -680\\ -24 -684\\ -18 -675\\ -13 -687\\ -8 -678\\ -3 -683\\ 1 -677\\ 6 -688\\ 11 -681\\ 16 -685\\ 22 -674\\ 28 -690\\ 35 -679\\ 43 -684\\ 54 -676\\ 68 -686\\
-84 -699\\ -57 -693\\ -45 -703\\ -37 -696\\ -30 -706\\ -24 -697\\ -18 -701\\ -11 -692\\ -6 -704\\ 0 -695\\ 4 -700\\ 9 -694\\ 14 -705\\ 19 -698\\ 25 -702\\ 31 -691\\ 38 -707\\ 46 -696\\ 55 -701\\ 68 -693\\
-70 -716\\ -55 -710\\ -45 -720\\ -37 -713\\ -31 -723\\ -25 -714\\ -19 -718\\ -14 -709\\ -9 -721\\ -4 -712\\ 1 -717\\ 6 -711\\ 11 -722\\ 16 -715\\ 21 -719\\ 27 -708\\ 34 -724\\ 41 -713\\ 50 -718\\ 62 -710\\ 79 -720\\
-62 -733\\ -49 -727\\ -40 -737\\ -33 -730\\ -26 -740\\ -20 -731\\ -14 -735\\ -9 -726\\ -4 -738\\ 0 -729\\ 3 -734\\ 8 -728\\ 13 -739\\ 18 -732\\ 23 -736\\ 29 -725\\ 35 -741\\ 42 -730\\ 50 -735\\ 62 -727\\ 77 -737\\
-61 -744\\ -49 -754\\ -40 -747\\ -33 -757\\ -27 -748\\ -21 -752\\ -15 -743\\ -10 -755\\ -5 -746\\ 0 -751\\ 4 -745\\ 9 -756\\ 14 -749\\ 19 -753\\ 25 -742\\ 31 -758\\ 38 -747\\ 46 -752\\ 57 -744\\
-60 -758\\ -48 -768\\ -40 -761\\ -33 -771\\ -27 -762\\ -21 -766\\ -14 -757\\ -9 -769\\ -3 -760\\ 1 -765\\ 6 -759\\ 11 -770\\ 16 -763\\ 22 -767\\ 28 -756\\ 35 -772\\ 43 -761\\ 52 -766\\
-60 -806\\ -48 -816\\ -39 -809\\ -32 -819\\ -26 -810\\ -20 -814\\ -14 -805\\ -9 -817\\ -4 -808\\ 1 -813\\ 5 -807\\ 10 -818\\ 15 -811\\ 20 -815\\ 26 -804\\ 32 -820\\ 39 -809\\ 47 -814\\ 58 -806\\
-86 -835\\ -59 -829\\ -47 -839\\ -39 -832\\ -32 -842\\ -26 -833\\ -20 -837\\ -13 -828\\ -8 -840\\ -2 -831\\ 2 -836\\ 7 -830\\ 12 -841\\ 17 -834\\ 23 -838\\ 29 -827\\ 36 -843\\ 44 -832\\ 53 -837\\ 66 -829\\
-67 -858\\ -52 -852\\ -42 -862\\ -34 -855\\ -28 -865\\ -22 -856\\ -16 -860\\ -11 -851\\ -6 -863\\ -1 -854\\ 4 -859\\ 9 -853\\ 14 -864\\ 19 -857\\ 24 -861\\ 30 -850\\ 37 -866\\ 44 -855\\ 53 -860\\ 65 -852\\ 82 -862\\
-64 -880\\ -51 -874\\ -42 -884\\ -35 -877\\ -28 -887\\ -22 -878\\ -16 -882\\ -11 -873\\ -6 -885\\ -2 -876\\ 1 -881\\ 6 -875\\ 11 -886\\ 16 -879\\ 21 -883\\ 27 -872\\ 33 -888\\ 40 -877\\ 48 -882\\ 60 -874\\ 75 -884\\
-51 -907\\ -42 -900\\ -35 -910\\ -29 -901\\ -23 -905\\ -17 -896\\ -12 -908\\ -7 -899\\ -2 -904\\ 2 -898\\ 7 -909\\ 12 -902\\ 17 -906\\ 23 -895\\ 29 -911\\ 36 -900\\ 44 -905\\ -15 -918\\ 5 -920\\ 20 -915\\ -30 -916\\
-124 -485\\ -119 -405\\ -113 -17\\ -118 560\\ -107 350\\ 135 -283\\ 148 -818\\ 166 -800\\ 115 -440\\ 118 -540\\ 110 -200\\ 102 -70\\ 95 -60\\ 88 -220\\ 97 -350\\ 105 -400\\ -95 -470\\ -100 -440\\ -98 -500\\ -96 420\\ -92 560\\ -95 250\\ -90 150\\ -100 80\\ -92 -120\\ -95 -600\\ -102 -820\\ -90 -835\\ 92 -800\\ 100 -840\\ 110 -830\\ 90 450\\ 88 200\\ 92 -650\\ 85 -150\\ 87 -480\\ 93 -520\\ -105 -380\\ 82 600\\ 98 -760\\ 104 -470\\ -99 -690\\ 90 620\\ 75 530\\
};
\addplot[so] table[row sep=\\] {
-20 100\\ -15 110\\ -10 95\\ -5 105\\ 0 100\\ 5 110\\ 10 95\\ 15 105\\ 20 100\\ 25 90\\ -12 80\\ -3 75\\ 6 80\\ 14 85\\ 22 120\\ -8 125\\ 2 130\\ 12 125\\ -18 130\\ 0 120\\ 8 140\\ -5 145\\ 18 135\\ 28 110\\ -25 115\\ 10 65\\ -10 60\\ 20 70\\ 0 55\\ 15 150\\ -14 85\\ 4 90\\ 24 80\\ -6 115\\ 16 118\\
-22 40\\ -16 40\\ -10 40\\ -4 40\\ 2 40\\ 8 40\\ 14 40\\ 20 40\\ 26 40\\ 32 40\\
-19 60\\ -13 60\\ -7 60\\ -1 60\\ 5 60\\ 11 60\\ 17 60\\ 23 60\\ 29 60\\
-22 80\\ -16 80\\ -10 80\\ -4 80\\ 2 80\\ 8 80\\ 14 80\\ 20 80\\ 26 80\\ 32 80\\
-19 100\\ -13 100\\ -7 100\\ -1 100\\ 5 100\\ 11 100\\ 17 100\\ 23 100\\ 29 100\\
-22 120\\ -16 120\\ -10 120\\ -4 120\\ 2 120\\ 8 120\\ 14 120\\ 20 120\\ 26 120\\ 32 120\\
-19 140\\ -13 140\\ -7 140\\ -1 140\\ 5 140\\ 11 140\\ 17 140\\ 23 140\\ 29 140\\
-16 160\\ -10 160\\ -4 160\\ 2 160\\ 8 160\\ 14 160\\ 20 160\\
-33 972\\ -28 930\\ -37 930\\ -20 908\\ -12 935\\ 8 945\\ -5 918\\ 10 935\\ 20 925\\ 0 930\\ 12 910\\ 18 955\\ -25 915\\ 15 930\\ 28 928\\
-20 835\\ -14 840\\ -10 838\\ 13 838\\ -22 828\\ 5 838\\ 25 842\\
-28 650\\ -25 645\\ -10 640\\ 5 640\\ 20 645\\ 30 650\\ -30 620\\ -15 615\\ 0 620\\ 15 625\\ 25 610\\ 35 600\\ -20 585\\ -5 590\\ 10 580\\ 28 575\\ -35 560\\ -20 555\\ 5 550\\ 20 560\\ 40 550\\ -10 530\\ 15 525\\ 30 520\\ -35 640\\ 10 655\\ 40 620\\ -5 600\\ 22 595\\ -25 575\\ 0 565\\ 45 580\\ -12 545\\ 35 540\\ 0 515\\ -30 510\\
-40 460\\ -25 470\\ 15 465\\ 38 455\\ -30 430\\ -10 420\\ 5 430\\ 25 425\\ 45 410\\ -50 360\\ -75 340\\ -35 390\\ -15 380\\ 0 370\\ 20 385\\ 35 370\\ -20 340\\ 10 335\\ 30 330\\ 50 300\\ -25 300\\ -5 290\\ 15 310\\ 40 280\\ -40 250\\ -10 240\\ 20 245\\ 35 230\\ -30 200\\ 0 195\\ 25 190\\ 45 180\\ -15 170\\ 60 290\\ -45 430\\ 20 450\\ -5 455\\ 30 400\\ -25 410\\ 10 400\\ -45 300\\ 25 355\\ -10 310\\ 0 260\\ 30 270\\ -20 270\\ 10 220\\ -35 225\\ 15 180\\
-35 40\\ -15 35\\ 10 30\\ 30 45\\ -25 10\\ 0 0\\ 20 5\\ 40 -10\\ -30 -20\\ -10 -30\\ 15 -25\\ 78 10\\ 78 20\\ 52 -30\\ -20 60\\ 30 20\\ -40 -5\\ 5 -10\\ 25 -40\\ -5 15\\
-20 -60\\ 5 -70\\ 25 -80\\ -35 -100\\ -10 -110\\ 10 -120\\ 30 -100\\ -25 -140\\ 0 -150\\ 20 -145\\ -15 -170\\ 10 -180\\ 35 -190\\ 50 -180\\ -30 -75\\ 15 -90\\ 40 -130\\ -5 -130\\ -40 -160\\ 25 -160\\ 0 -200\\ -20 -210\\ 20 -210\\ 45 -150\\
-40 -290\\ -20 -300\\ 0 -290\\ 20 -295\\ 35 -300\\ -30 -330\\ -10 -320\\ 10 -340\\ 30 -325\\ 40 -330\\ -50 -360\\ -25 -370\\ -5 -380\\ 15 -360\\ 32 -375\\ -40 -400\\ -15 -410\\ 5 -420\\ 25 -400\\ 45 -410\\ -30 -440\\ -8 -450\\ 12 -445\\ 32 -455\\ 50 -430\\ -70 -370\\ -45 -480\\ -20 -490\\ 0 -480\\ 22 -500\\ 40 -490\\ -10 -510\\ -25 -310\\ 15 -310\\ -35 -345\\ 0 -350\\ 25 -350\\ -15 -395\\ 35 -395\\ -40 -425\\ 20 -430\\ -25 -460\\ 45 -460\\ 5 -500\\ -50 -510\\
-35 -590\\ -10 -600\\ 10 -590\\ 30 -600\\ -25 -620\\ 0 -630\\ 20 -625\\ 40 -615\\ -40 -650\\ -15 -655\\ 5 -660\\ 25 -650\\ -30 -690\\ -5 -700\\ 15 -695\\ 35 -685\\ -20 -720\\ 0 -730\\ 20 -725\\ -55 -560\\ 45 -640\\ -20 -585\\ 20 -580\\ 0 -610\\ 40 -670\\ -35 -670\\ 10 -680\\ -10 -745\\ 25 -750\\ 55 -760\\
-20 -910\\ -10 -905\\ 0 -915\\ 10 -900\\ 20 -910\\ 30 -895\\ 45 -900\\ 50 -905\\ -45 -815\\ -30 -855\\ 15 -875\\ 40 -820\\ 117 -853\\ -35 -905\\ 35 -905\\ -5 -835\\ 25 -890\\
};
\end{axis}
\node[anchor=base west,font=\fontsize{9}{10}\selectfont] at (325.5pt,-345pt) {x 10\textsuperscript{7}};
\node[anchor=base west,font=\fontsize{9}{10}\selectfont] at (528.3pt,-534pt) {x 10\textsuperscript{6}};

% ---------------- d) A difference (units of 1e5)
\begin{axis}[mstyle, at={(326.15pt,-347pt)}, anchor=north west, width=222.85pt, height=163.5pt,
  xmin=-60, xmax=60, ymin=0, ymax=200,
  xtick={-60,-40,-20,0,20,40,60}, xticklabels={−6,−4,−2,0,2,4,6},
  ytick={0,50,100,150,200}, yticklabels={0,0.5,1,1.5,2},
  xlabel={Difference from Mean A / a.u.}, xlabel style={at={(axis description cs:0.4997,-0.116)}},
  ylabel={Mean A / a.u.}, ylabel style={at={(axis description cs:-0.077,0.5)}}]
\addplot[sx] table[row sep=\\] {
-54.4 184\\ -23.6 184\\ -11.0 184\\ -8.5 184\\ -2.7 184\\ -2.5 184\\ 1.1 184\\ 9.6 184\\ 31.1 184\\ 49.1 184\\
-18.0 60\\ -8.1 60\\ -7.5 60\\ -6.8 60\\ -6.0 60\\ -5.2 60\\ -4.4 60\\ -1.0 60\\ 3.1 60\\ 3.8 60\\ 4.5 60\\ 5.2 60\\ 5.8 60\\ 11.2 60\\ 14.3 60\\
-9.9 57.3\\ -6.0 57.3\\ -5.0 57.3\\ -4.2 57.3\\ -3.0 57.3\\ -1.5 57.3\\ -0.5 57.3\\ 0.8 57.3\\ 4.6 57.3\\ 5.8 57.3\\ 6.5 57.3\\ 7.1 57.3\\ 8.2 57.3\\ 12.1 57.3\\ 13.5 57.3\\
-12.6 54.6\\ -7.0 54.6\\ -3.5 54.6\\ -2.5 54.6\\ -1.0 54.6\\ 1.0 54.6\\ 9.8 54.6\\ 12.8 54.6\\ 14.8 54.6\\
-8.1 51.6\\ -5.5 51.6\\ -2.0 51.6\\ 0.4 51.6\\ 3.8 51.6\\ 7.1 51.6\\
-22.1 45.5\\ 17.9 45.5\\ 21.0 41.8\\ 22.8 41.8\\ -15.3 41.4\\ -15.1 40.6\\ -12.2 36.3\\ -11.8 32.3\\ 13.4 33.9\\ 15.2 31.9\\ 12.9 23.4\\ 10.3 13.5\\ -11.8 23.4\\ 14.3 45.5\\
-12.1 44\\ -10.6 44.6\\ -9.2 43.5\\ -8.0 44.3\\ -6.9 43.3\\ -5.7 44.2\\ -4.6 43.8\\ -3.4 44.7\\ -2.3 43.5\\ -1.1 44.4\\ 0.2 43.9\\ 1.4 44.5\\ 2.5 43.4\\ 3.7 44.1\\ 4.8 43.7\\ 6.1 44.8\\ 7.3 43.2\\ 8.6 44.3\\ 9.9 43.8\\ 11.3 44.6\\ 12.8 43.6\\
-11.5 41.5\\ -9.9 42.1\\ -8.6 41.0\\ -7.4 41.8\\ -6.2 40.8\\ -5.1 41.7\\ -4.0 41.3\\ -2.8 42.2\\ -1.7 41.0\\ -0.5 41.9\\ 0.8 41.4\\ 1.9 42.0\\ 3.1 40.9\\ 4.3 41.6\\ 5.4 41.2\\ 6.7 42.3\\ 7.9 40.7\\ 9.2 41.8\\ 10.6 41.3\\ 12.0 42.1\\ 13.6 41.1\\
-11.8 39\\ -10.3 39.6\\ -8.9 38.5\\ -7.7 39.3\\ -6.6 38.3\\ -5.4 39.2\\ -4.3 38.8\\ -3.1 39.7\\ -2.0 38.5\\ -0.8 39.4\\ 0.5 38.9\\ 1.7 39.5\\ 2.8 38.4\\ 4.0 39.1\\ 5.1 38.7\\ 6.4 39.8\\ 7.6 38.2\\ 8.9 39.3\\ 10.2 38.8\\ 11.6 39.6\\ 13.1 38.6\\
-11.8 36.5\\ -10.2 37.1\\ -8.9 36.0\\ -7.7 36.8\\ -6.5 35.8\\ -5.4 36.7\\ -4.3 36.3\\ -3.1 37.2\\ -2.0 36.0\\ -0.8 36.9\\ 0.5 36.4\\ 1.6 37.0\\ 2.8 35.9\\ 4.0 36.6\\ 5.1 36.2\\ 6.4 37.3\\ 7.6 35.7\\ 8.9 36.8\\ 10.3 36.3\\ 11.7 37.1\\ 13.3 36.1\\
-12.1 34\\ -10.6 34.6\\ -9.2 33.5\\ -8.0 34.3\\ -6.9 33.3\\ -5.7 34.2\\ -4.6 33.8\\ -3.4 34.7\\ -2.3 33.5\\ -1.1 34.4\\ 0.2 33.9\\ 1.4 34.5\\ 2.5 33.4\\ 3.7 34.1\\ 4.8 33.7\\ 6.1 34.8\\ 7.3 33.2\\ 8.6 34.3\\ 9.9 33.8\\ 11.3 34.6\\ 12.8 33.6\\
-11.5 31.5\\ -9.9 32.1\\ -8.6 31.0\\ -7.4 31.8\\ -6.2 30.8\\ -5.1 31.7\\ -4.0 31.3\\ -2.8 32.2\\ -1.7 31.0\\ -0.5 31.9\\ 0.8 31.4\\ 1.9 32.0\\ 3.1 30.9\\ 4.3 31.6\\ 5.4 31.2\\ 6.7 32.3\\ 7.9 30.7\\ 9.2 31.8\\ 10.6 31.3\\ 12.0 32.1\\
-11.8 29\\ -10.3 29.6\\ -8.9 28.5\\ -7.7 29.3\\ -6.6 28.3\\ -5.4 29.2\\ -4.3 28.8\\ -3.1 29.7\\ -2.0 28.5\\ -0.8 29.4\\ 0.5 28.9\\ 1.7 29.5\\ 2.8 28.4\\ 4.0 29.1\\ 5.1 28.7\\ 6.4 29.8\\ 7.6 28.2\\ 8.9 29.3\\ 10.2 28.8\\ 11.6 29.6\\
-11.8 26.5\\ -10.2 27.1\\ -8.9 26.0\\ -7.7 26.8\\ -6.5 25.8\\ -5.4 26.7\\ -4.3 26.3\\ -3.1 27.2\\ -2.0 26.0\\ -0.8 26.9\\ 0.5 26.4\\ 1.6 27.0\\ 2.8 25.9\\ 4.0 26.6\\ 5.1 26.2\\ 6.4 27.3\\ 7.6 25.7\\ 8.9 26.8\\ 10.3 26.3\\
-10.6 24.6\\ -9.2 23.5\\ -8.0 24.3\\ -6.9 23.3\\ -5.7 24.2\\ -4.6 23.8\\ -3.4 24.7\\ -2.3 23.5\\ -1.1 24.4\\ 0.2 23.9\\ 1.4 24.5\\ 2.5 23.4\\ 3.7 24.1\\ 4.8 23.7\\ 6.1 24.8\\ 7.3 23.2\\ 8.6 24.3\\ 9.9 23.8\\
-9.9 22.1\\ -8.6 21.0\\ -7.4 21.8\\ -6.2 20.8\\ -5.1 21.7\\ -4.0 21.3\\ -2.8 22.2\\ -1.7 21.0\\ -0.5 21.9\\ 0.8 21.4\\ 1.9 22.0\\ 3.1 20.9\\ 4.3 21.6\\ 5.4 21.2\\ 6.7 22.3\\ 7.9 20.7\\ 9.2 21.8\\
-8.9 18.5\\ -7.7 19.3\\ -6.6 18.3\\ -5.4 19.2\\ -4.3 18.8\\ -3.1 19.7\\ -2.0 18.5\\ -0.8 19.4\\ 0.5 18.9\\ 1.7 19.5\\ 2.8 18.4\\ 4.0 19.1\\ 5.1 18.7\\ 6.4 19.8\\ 7.6 18.2\\ 8.9 19.3\\
-7.4 16.8\\ -6.2 15.8\\ -5.1 16.7\\ -4.0 16.3\\ -2.8 17.2\\ -1.7 16.0\\ -0.5 16.9\\ 0.8 16.4\\ 1.9 17.0\\ 3.1 15.9\\ 4.3 16.6\\ 5.4 16.2\\ 6.7 17.3\\ 7.9 15.7\\
-6.9 13.3\\ -5.7 14.2\\ -4.6 13.8\\ -3.4 14.7\\ -2.3 13.5\\ -1.1 14.4\\ 0.2 13.9\\ 1.4 14.5\\ 2.5 13.4\\ 3.7 14.1\\ 4.8 13.7\\ 6.1 14.8\\ 7.3 13.2\\
-5.1 11.7\\ -4.0 11.3\\ -2.8 12.2\\ -1.7 11.0\\ -0.5 11.9\\ 0.8 11.4\\ 1.9 12.0\\ 3.1 10.9\\ 4.3 11.6\\ 5.4 11.2\\
-4.6 8.8\\ -3.4 9.7\\ -2.3 8.5\\ -1.1 9.4\\ 0.2 8.9\\ 1.4 9.5\\ 2.5 8.4\\ 3.7 9.1\\ 4.8 8.7\\
-2.8 7.2\\ -1.7 6.0\\ -0.5 6.9\\ 0.8 6.4\\ 1.9 7.0\\ 3.1 5.9\\
-2.3 3.5\\ -1.1 4.4\\ 0.2 3.9\\ 1.4 4.5\\ 2.5 3.4\\ -1.2 2.2\\ 0.0 1.8\\ 1.2 2.3\\
-13.6 42.5\\ 14.5 43\\ -13.3 38\\ 14.2 37.5\\ -12.9 33.2\\ -12.5 28\\ -10.5 18\\ 9.8 16\\ -8.5 12.5\\ 7.5 10\\ -6.5 8\\
};
\addplot[so] table[row sep=\\] {
11.4 184\\ -7.7 57.3\\ -10.6 54.6\\ -3.4 60\\ 2.0 60\\ 3.5 57.3\\ 4.0 54.6\\ 3.1 51.6\\
0 1\\ -0.7 2.5\\ 0.7 2.5\\ -1.2 4\\ 0 4\\ 1.2 4\\ -1.6 5.5\\ -0.5 5.5\\ 0.6 5.5\\ 1.7 5.5\\
-2.6 7\\ -1.3 7\\ 0 7\\ 1.3 7\\ 2.6 7\\
-2.1 8.8\\ -0.8 8.8\\ 0.5 8.8\\ 1.8 8.8\\ 3.1 8.8\\
-2.6 10.6\\ -1.3 10.6\\ 0 10.6\\ 1.3 10.6\\ 2.6 10.6\\
-2.1 12.4\\ -0.8 12.4\\ 0.5 12.4\\ 1.8 12.4\\ 3.1 12.4\\
-2.6 14.2\\ -1.3 14.2\\ 0 14.2\\ 1.3 14.2\\ 2.6 14.2\\
-2.1 16\\ -0.8 16\\ 0.5 16\\ 1.8 16\\ 3.1 16\\
-2.6 17.8\\ -1.3 17.8\\ 0 17.8\\ 1.3 17.8\\ 2.6 17.8\\
-2.1 19.6\\ -0.8 19.6\\ 0.5 19.6\\ 1.8 19.6\\ 3.1 19.6\\
-2.6 21.4\\ -1.3 21.4\\ 0 21.4\\ 1.3 21.4\\ 2.6 21.4\\
-2.1 23.2\\ -0.8 23.2\\ 0.5 23.2\\ 1.8 23.2\\ 3.1 23.2\\
-2.6 25\\ -1.3 25\\ 0 25\\ 1.3 25\\ 2.6 25\\
-2.1 26.8\\ -0.8 26.8\\ 0.5 26.8\\ 1.8 26.8\\ 3.1 26.8\\
-2.6 28.6\\ -1.3 28.6\\ 0 28.6\\ 1.3 28.6\\ 2.6 28.6\\
-2.1 30.4\\ -0.8 30.4\\ 0.5 30.4\\ 1.8 30.4\\ 3.1 30.4\\
-2.6 32.2\\ -1.3 32.2\\ 0 32.2\\ 1.3 32.2\\ 2.6 32.2\\
-2.1 34\\ -0.8 34\\ 0.5 34\\ 1.8 34\\ 3.1 34\\
-2.6 35.8\\ -1.3 35.8\\ 0 35.8\\ 1.3 35.8\\ 2.6 35.8\\
-2.1 37.6\\ -0.8 37.6\\ 0.5 37.6\\ 1.8 37.6\\ 3.1 37.6\\
-2.6 39.4\\ -1.3 39.4\\ 0 39.4\\ 1.3 39.4\\ 2.6 39.4\\
-2.1 41.2\\ -0.8 41.2\\ 0.5 41.2\\ 1.8 41.2\\ 3.1 41.2\\
-2.6 43\\ -1.3 43\\ 0 43\\ 1.3 43\\ 2.6 43\\
-1.95 9.7\\ -0.65 9.7\\ 0.65 9.7\\ 1.95 9.7\\ -1.95 13.3\\ -0.65 13.3\\ 0.65 13.3\\ 1.95 13.3\\ -1.95 16.9\\ -0.65 16.9\\ 0.65 16.9\\ 1.95 16.9\\ -1.95 20.5\\ -0.65 20.5\\ 0.65 20.5\\ 1.95 20.5\\ -1.95 24.1\\ -0.65 24.1\\ 0.65 24.1\\ 1.95 24.1\\ -1.95 27.7\\ -0.65 27.7\\ 0.65 27.7\\ 1.95 27.7\\ -1.95 31.3\\ -0.65 31.3\\ 0.65 31.3\\ 1.95 31.3\\ -1.95 34.9\\ -0.65 34.9\\ 0.65 34.9\\ 1.95 34.9\\ -1.95 38.5\\ -0.65 38.5\\ 0.65 38.5\\ 1.95 38.5\\ -1.95 42.1\\ -0.65 42.1\\ 0.65 42.1\\ 1.95 42.1\\
-3.7 15\\ 3.8 15.5\\ -3.6 18.5\\ 3.9 19\\ -3.8 22\\ 3.7 22.5\\ -3.7 25.5\\ 3.9 26\\ -3.6 29\\ 3.8 29.5\\ -3.8 32.5\\ 3.7 33\\ -3.7 36\\ 3.9 36.5\\ -3.6 39.5\\ 3.8 40\\
-9.5 40.4\\ 9.4 39.3\\ 9.2 35.9\\ 3.1 44.5\\ -4.3 45.9\\ -10.8 22\\ -6.6 15.9\\ -7.5 36\\ -6 33\\ -5.5 28\\ -7.8 26\\ -5 20\\ -4.2 38\\ 5.5 40\\ 6.8 36\\ 4.5 30\\ 7.5 27\\ 6 22\\ 8 18\\ 4.8 14\\ -4.5 12\\ 4.2 18\\ -3.8 24\\ 3.8 34\\ 5 44\\ -8 30\\ 7 42\\ -6.3 42.5\\ 2 45.2\\ -1.5 45.5\\
};
\end{axis}

% ---------------- e) B difference
\begin{axis}[mstyle, at={(181.35pt,-583.35pt)}, anchor=north west, width=223.65pt, height=165.8pt,
  xmin=-30, xmax=30, ymin=0, ymax=200,
  xtick={-30,-20,-10,0,10,20,30}, xticklabels={−30,−20,−10,0,10,20,30},
  ytick={0,50,100,150,200}, yticklabels={0,50,100,150,200},
  xlabel={Difference from Mean B / a.u.}, xlabel style={at={(axis description cs:0.501,-0.111)}},
  ylabel={Mean B / a.u.}, ylabel style={at={(axis description cs:-0.089,0.5045)}}]
\addplot[sx] table[row sep=\\] {
-25.5 162\\ -10.3 162\\ -4.5 162\\ -3.4 162\\ -0.76 162\\ -0.7 162\\ 0.9 162\\ 4.65 162\\ 13.5 162\\ 20.7 162\\
-10.3 64.9\\ -6.8 62.7\\ -6.4 61.3\\ -5.2 59.7\\ -4.9 59.7\\ -4.2 64.9\\ -3.6 64.9\\ -4.4 59.7\\ -2.7 64.9\\ -2.6 61.3\\ -2.4 61.3\\ -1.7 64.9\\ -1.5 64.9\\ -1.4 61.3\\ -0.9 61.3\\ 0.4 61.3\\ 0.9 62.7\\ 1.8 61.3\\ 2.5 62.7\\ 2.8 61.3\\ 4.3 61.3\\ 4.2 64.9\\ 4.9 62.7\\ 5.5 64.9\\ 6.2 64.9\\ 5.7 59.7\\ 7.3 64.9\\
-7.1 49.5\\ -6.2 50.3\\ -5.4 49.3\\ -4.5 50.2\\ -3.7 49.8\\ -2.8 50.7\\ -2.0 49.5\\ -1.1 50.4\\ -0.3 49.9\\ 0.6 50.5\\ 1.4 49.4\\ 2.3 50.1\\ 3.1 49.7\\ 4.0 50.8\\ 4.8 49.2\\ 5.7 50.3\\ 6.5 49.8\\ 7.4 50.6\\
-7.5 48.6\\ -6.7 47.5\\ -5.8 48.3\\ -5.0 47.3\\ -4.1 48.2\\ -3.3 47.8\\ -2.4 48.7\\ -1.6 47.5\\ -0.7 48.4\\ 0.1 47.9\\ 1.0 48.5\\ 1.8 47.4\\ 2.7 48.1\\ 3.5 47.7\\ 4.4 48.8\\ 5.2 47.2\\ 6.1 48.3\\ 6.9 47.8\\ 7.8 48.6\\
-7.9 46.6\\ -7.1 45.5\\ -6.2 46.3\\ -5.4 45.3\\ -4.5 46.2\\ -3.7 45.8\\ -2.8 46.7\\ -2.0 45.5\\ -1.1 46.4\\ -0.3 45.9\\ 0.6 46.5\\ 1.4 45.4\\ 2.3 46.1\\ 3.1 45.7\\ 4.0 46.8\\ 4.8 45.2\\ 5.7 46.3\\ 6.5 45.8\\ 7.4 46.6\\
-8.4 44\\ -7.5 44.6\\ -6.7 43.5\\ -5.8 44.3\\ -5.0 43.3\\ -4.1 44.2\\ -3.3 43.8\\ -2.4 44.7\\ -1.6 43.5\\ -0.7 44.4\\ 0.1 43.9\\ 1.0 44.5\\ 1.8 43.4\\ 2.7 44.1\\ 3.5 43.7\\ 4.4 44.8\\ 5.2 43.2\\ 6.1 44.3\\ 6.9 43.8\\ 7.8 44.6\\
-8.8 42\\ -7.9 42.6\\ -7.1 41.5\\ -6.2 42.3\\ -5.4 41.3\\ -4.5 42.2\\ -3.7 41.8\\ -2.8 42.7\\ -2.0 41.5\\ -1.1 42.4\\ -0.3 41.9\\ 0.6 42.5\\ 1.4 41.4\\ 2.3 42.1\\ 3.1 41.7\\ 4.0 42.8\\ 4.8 41.2\\ 5.7 42.3\\ 6.5 41.8\\ 7.4 42.6\\ 8.2 41.6\\
-8.4 40\\ -7.5 40.6\\ -6.7 39.5\\ -5.8 40.3\\ -5.0 39.3\\ -4.1 40.2\\ -3.3 39.8\\ -2.4 40.7\\ -1.6 39.5\\ -0.7 40.4\\ 0.1 39.9\\ 1.0 40.5\\ 1.8 39.4\\ 2.7 40.1\\ 3.5 39.7\\ 4.4 40.8\\ 5.2 39.2\\ 6.1 40.3\\ 6.9 39.8\\ 7.8 40.6\\ 8.6 39.6\\
-7.9 38.6\\ -7.1 37.5\\ -6.2 38.3\\ -5.4 37.3\\ -4.5 38.2\\ -3.7 37.8\\ -2.8 38.7\\ -2.0 37.5\\ -1.1 38.4\\ -0.3 37.9\\ 0.6 38.5\\ 1.4 37.4\\ 2.3 38.1\\ 3.1 37.7\\ 4.0 38.8\\ 4.8 37.2\\ 5.7 38.3\\ 6.5 37.8\\ 7.4 38.6\\ 8.2 37.6\\
-7.5 36.6\\ -6.7 35.5\\ -5.8 36.3\\ -5.0 35.3\\ -4.1 36.2\\ -3.3 35.8\\ -2.4 36.7\\ -1.6 35.5\\ -0.7 36.4\\ 0.1 35.9\\ 1.0 36.5\\ 1.8 35.4\\ 2.7 36.1\\ 3.5 35.7\\ 4.4 36.8\\ 5.2 35.2\\ 6.1 36.3\\ 6.9 35.8\\ 7.8 36.6\\
-7.1 33.5\\ -6.2 34.3\\ -5.4 33.3\\ -4.5 34.2\\ -3.7 33.8\\ -2.8 34.7\\ -2.0 33.5\\ -1.1 34.4\\ -0.3 33.9\\ 0.6 34.5\\ 1.4 33.4\\ 2.3 34.1\\ 3.1 33.7\\ 4.0 34.8\\ 4.8 33.2\\ 5.7 34.3\\ 6.5 33.8\\ 7.4 34.6\\
-6.7 31.5\\ -5.8 32.3\\ -5.0 31.3\\ -4.1 32.2\\ -3.3 31.8\\ -2.4 32.7\\ -1.6 31.5\\ -0.7 32.4\\ 0.1 31.9\\ 1.0 32.5\\ 1.8 31.4\\ 2.7 32.1\\ 3.5 31.7\\ 4.4 32.8\\ 5.2 31.2\\ 6.1 32.3\\ 6.9 31.8\\ 7.8 32.6\\
-6.2 30.3\\ -5.4 29.3\\ -4.5 30.2\\ -3.7 29.8\\ -2.8 30.7\\ -2.0 29.5\\ -1.1 30.4\\ -0.3 29.9\\ 0.6 30.5\\ 1.4 29.4\\ 2.3 30.1\\ 3.1 29.7\\ 4.0 30.8\\ 4.8 29.2\\ 5.7 30.3\\ 6.5 29.8\\ 7.4 30.6\\
-5.8 28.3\\ -5.0 27.3\\ -4.1 28.2\\ -3.3 27.8\\ -2.4 28.7\\ -1.6 27.5\\ -0.7 28.4\\ 0.1 27.9\\ 1.0 28.5\\ 1.8 27.4\\ 2.7 28.1\\ 3.5 27.7\\ 4.4 28.8\\ 5.2 27.2\\ 6.1 28.3\\ 6.9 27.8\\
-5.4 25.3\\ -4.5 26.2\\ -3.7 25.8\\ -2.8 26.7\\ -2.0 25.5\\ -1.1 26.4\\ -0.3 25.9\\ 0.6 26.5\\ 1.4 25.4\\ 2.3 26.1\\ 3.1 25.7\\ 4.0 26.8\\ 4.8 25.2\\ 5.7 26.3\\ 6.5 25.8\\
-5.0 23.3\\ -4.1 24.2\\ -3.3 23.8\\ -2.4 24.7\\ -1.6 23.5\\ -0.7 24.4\\ 0.1 23.9\\ 1.0 24.5\\ 1.8 23.4\\ 2.7 24.1\\ 3.5 23.7\\ 4.4 24.8\\ 5.2 23.2\\ 6.1 24.3\\
-4.5 22.2\\ -3.7 21.8\\ -2.8 22.7\\ -2.0 21.5\\ -1.1 22.4\\ -0.3 21.9\\ 0.6 22.5\\ 1.4 21.4\\ 2.3 22.1\\ 3.1 21.7\\ 4.0 22.8\\ 4.8 21.2\\ 5.7 22.3\\
-4.1 20.2\\ -3.3 19.8\\ -2.4 20.7\\ -1.6 19.5\\ -0.7 20.4\\ 0.1 19.9\\ 1.0 20.5\\ 1.8 19.4\\ 2.7 20.1\\ 3.5 19.7\\ 4.4 20.8\\ 5.2 19.2\\ 6.1 20.3\\
-3.7 17.8\\ -2.8 18.7\\ -2.0 17.5\\ -1.1 18.4\\ -0.3 17.9\\ 0.6 18.5\\ 1.4 17.4\\ 2.3 18.1\\ 3.1 17.7\\ 4.0 18.8\\ 4.8 17.2\\
-3.3 15.8\\ -2.4 16.7\\ -1.6 15.5\\ -0.7 16.4\\ 0.1 15.9\\ 1.0 16.5\\ 1.8 15.4\\ 2.7 16.1\\ 3.5 15.7\\ 4.4 16.8\\
-2.8 14.7\\ -2.0 13.5\\ -1.1 14.4\\ -0.3 13.9\\ 0.6 14.5\\ 1.4 13.4\\ 2.3 14.1\\ 3.1 13.7\\ 4.0 14.8\\
-2.4 12.7\\ -1.6 11.5\\ -0.7 12.4\\ 0.1 11.9\\ 1.0 12.5\\ 1.8 11.4\\ 2.7 12.1\\ 3.5 11.7\\
-12.5 35.6\\ -12.5 33.2\\ -11.4 42.6\\ -9.3 30.1\\ -9.1 39.6\\ -8.2 39.6\\ 9.2 43.2\\ 9.9 40.6\\ 10.2 40.6\\ 7.7 23.2\\ -9.8 34.5\\ 9.0 36\\ -6.5 22\\ 6.8 20.5\\ -5.5 17\\ 5.5 16\\ 8.5 30\\ -7.8 27\\ 3.5 11\\ -3 11.5\\ 2.4 10.8\\ -1.8 10.8\\ 6.0 26\\ -10 36.5\\
-1.6 3.2\\ -1.2 2.5\\ -0.8 3.4\\ -0.2 3.0\\ 0.5 3.3\\ 1.0 2.8\\ 1.5 3.2\\ 2.0 2.6\\ 2.3 3.0\\ 1.8 1.5\\ -1.4 1.2\\ 1.2 1.0\\ 2.4 2.0\\ 0.3 2.0\\
};
\addplot[so] table[row sep=\\] {
5.3 162\\ -0.27 64.9\\ 0.8 62.7\\ 1.5 61.3\\ 0.05 61.3\\ 8.0 59.7\\
-2.0 12\\ -1.2 12\\ -0.4 12\\ 0.4 12\\ 1.2 12\\ 2.0 12\\ 2.7 12\\
-1.7 14.4\\ -0.9 14.4\\ -0.1 14.4\\ 0.7 14.4\\ 1.5 14.4\\ 2.3 14.4\\
-2.0 16.8\\ -1.2 16.8\\ -0.4 16.8\\ 0.4 16.8\\ 1.2 16.8\\ 2.0 16.8\\ 2.7 16.8\\
-1.7 19.2\\ -0.9 19.2\\ -0.1 19.2\\ 0.7 19.2\\ 1.5 19.2\\ 2.3 19.2\\
-2.0 21.6\\ -1.2 21.6\\ -0.4 21.6\\ 0.4 21.6\\ 1.2 21.6\\ 2.0 21.6\\ 2.7 21.6\\
-1.7 24\\ -0.9 24\\ -0.1 24\\ 0.7 24\\ 1.5 24\\ 2.3 24\\
-2.0 26.4\\ -1.2 26.4\\ -0.4 26.4\\ 0.4 26.4\\ 1.2 26.4\\ 2.0 26.4\\ 2.7 26.4\\
-1.7 28.8\\ -0.9 28.8\\ -0.1 28.8\\ 0.7 28.8\\ 1.5 28.8\\ 2.3 28.8\\
-2.0 31.2\\ -1.2 31.2\\ -0.4 31.2\\ 0.4 31.2\\ 1.2 31.2\\ 2.0 31.2\\ 2.7 31.2\\
-1.7 33.6\\ -0.9 33.6\\ -0.1 33.6\\ 0.7 33.6\\ 1.5 33.6\\ 2.3 33.6\\
-2.0 36\\ -1.2 36\\ -0.4 36\\ 0.4 36\\ 1.2 36\\ 2.0 36\\ 2.7 36\\
-1.7 38.4\\ -0.9 38.4\\ -0.1 38.4\\ 0.7 38.4\\ 1.5 38.4\\ 2.3 38.4\\
-2.0 40.8\\ -1.2 40.8\\ -0.4 40.8\\ 0.4 40.8\\ 1.2 40.8\\ 2.0 40.8\\ 2.7 40.8\\
-1.7 43.2\\ -0.9 43.2\\ -0.1 43.2\\ 0.7 43.2\\ 1.5 43.2\\ 2.3 43.2\\
-2.0 45.6\\ -1.2 45.6\\ -0.4 45.6\\ 0.4 45.6\\ 1.2 45.6\\ 2.0 45.6\\ 2.7 45.6\\
-1.7 48\\ -0.9 48\\ -0.1 48\\ 0.7 48\\ 1.5 48\\ 2.3 48\\
-1.6 13.2\\ -0.8 13.2\\ 0 13.2\\ 0.8 13.2\\ 1.6 13.2\\ 2.4 13.2\\
-1.6 18\\ -0.8 18\\ 0 18\\ 0.8 18\\ 1.6 18\\ 2.4 18\\
-1.6 22.8\\ -0.8 22.8\\ 0 22.8\\ 0.8 22.8\\ 1.6 22.8\\ 2.4 22.8\\
-1.6 27.6\\ -0.8 27.6\\ 0 27.6\\ 0.8 27.6\\ 1.6 27.6\\ 2.4 27.6\\
-1.6 32.4\\ -0.8 32.4\\ 0 32.4\\ 0.8 32.4\\ 1.6 32.4\\ 2.4 32.4\\
-1.6 37.2\\ -0.8 37.2\\ 0 37.2\\ 0.8 37.2\\ 1.6 37.2\\ 2.4 37.2\\
-1.6 42\\ -0.8 42\\ 0 42\\ 0.8 42\\ 1.6 42\\ 2.4 42\\
-1.6 46.8\\ -0.8 46.8\\ 0 46.8\\ 0.8 46.8\\ 1.6 46.8\\ 2.4 46.8\\
-10.3 37.6\\ -6.35 46.6\\ -5.5 25.5\\ -4.6 25.5\\ -4.4 29.1\\ -4.4 33\\ -5.2 41\\ -3.3 43\\ -1.5 49.1\\ 3.9 50.1\\ 4.3 31.6\\ 6.5 33\\ 5.7 37\\ 5.0 43\\ 2.6 21\\ 3.0 29\\ -2.3 21\\ -2.5 37\\ -3.6 43\\ 0.8 50\\ 0 48\\ -3.8 38\\ 4.0 46\\ -3.2 17\\ 3.6 15\\ -4 49\\ -3 47\\ 3.5 48\\ 4.5 46\\ -4.8 45\\
-0.8 2\\ 0 2.8\\ 0.6 2.2\\ -0.4 1.0\\ 0.3 0.6\\ 0 0.2\\ -0.6 3.0\\ 0.9 3.0\\ 0.2 1.5\\ -0.2 0.0\\ 1.2 2.6\\ 0.0 1.2\\
};
\end{axis}
\end{tikzpicture}
\end{document}
